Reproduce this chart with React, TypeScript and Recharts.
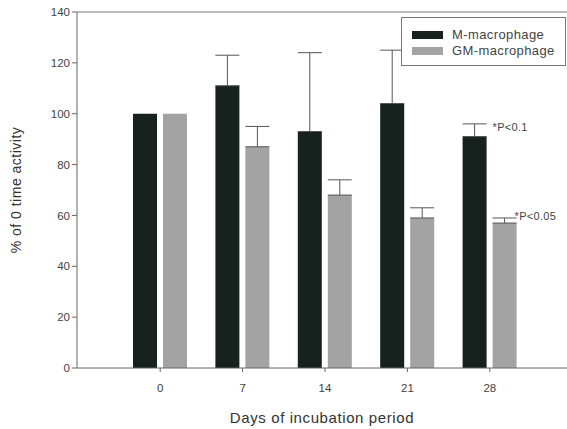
import React from "react";
import { BarChart, Bar, XAxis, YAxis, ErrorBar, ReferenceLine, LabelList } from "recharts";

const days = ["0", "7", "14", "21", "28"];
const mMacrophage = [100, 111, 93, 104, 91];
const gmMacrophage = [100, 87, 68, 59, 57];
const mError = [null, 12, 31, 21, 5];
const gmError = [null, 8, 6, 4, 2];
const mNotes = ["", "", "", "", "*P<0.1"];
const gmNotes = ["", "", "", "", "*P<0.05"];
const yTicks = [0, 20, 40, 60, 80, 100, 120, 140];
const seriesNames = ["M-macrophage", "GM-macrophage"];

const data = days.map((d, i) => ({
  day: d,
  m: mMacrophage[i],
  gm: gmMacrophage[i],
  mErr: mError[i] == null ? null : [0, mError[i]],
  gmErr: gmError[i] == null ? null : [0, gmError[i]],
  mNote: mNotes[i],
  gmNote: gmNotes[i],
}));

const FONT = "'Liberation Sans', Arial, sans-serif";
const M_COLOR = "#17211d";
const GM_COLOR = "#a3a3a3";

const makeNote = (errArr: (number | null)[], dx: number, dy: number) => (props: any) => {
  const { x, y, width, height, value, index } = props;
  if (!value) return null;
  const v = data[index];
  const base = errArr === mError ? v.m : v.gm;
  const err = errArr[index] || 0;
  const ppu = Number(height) / base;
  const top = Number(y) - err * ppu;
  return (
    <text x={Number(x) + Number(width) + dx} y={top + dy} fontSize={11} fill="#444" fontFamily={FONT} letterSpacing={0.3}>
      {value}
    </text>
  );
};

const LegendBox = () => (
  <div
    style={{
      position: "absolute",
      left: 401,
      top: 17,
      width: 163,
      height: 47,
      border: "1px solid #777",
      background: "#fff",
      fontFamily: FONT,
      fontSize: 13,
      letterSpacing: 0.4,
      color: "#444",
    }}
  >
    {[
      { c: M_COLOR, t: seriesNames[0], top: 11 },
      { c: GM_COLOR, t: seriesNames[1], top: 27 },
    ].map((e) => (
      <div key={e.t} style={{ position: "absolute", left: 10, top: e.top, display: "flex", alignItems: "center", whiteSpace: "nowrap" }}>
        <div style={{ width: 31, height: 8, background: e.c }} />
        <span style={{ marginLeft: 9, lineHeight: "12px" }}>{e.t}</span>
      </div>
    ))}
  </div>
);

export default function App() {
  return (
    <div style={{ position: "absolute", left: 0, top: 0, width: 567, height: 429, background: "#fff" }}>
      <BarChart
        width={567}
        height={429}
        data={data}
        margin={{ top: 12, right: 0, bottom: 0, left: 0 }}
        barSize={24}
        barGap={6}
      >
        <ReferenceLine y={140} stroke="#777" strokeWidth={1} ifOverflow="extendDomain" />
        <XAxis
          dataKey="day"
          height={61}
          padding={{ left: 42, right: 36 }}
          stroke="#666"
          tickLine={{ stroke: "#666" }}
          tickSize={4}
          tick={{ fill: "#444", fontSize: 11.5, fontFamily: FONT, dy: 10 }}
          label={{ value: "Days of incubation period", position: "insideBottom", offset: 6, fill: "#333", fontSize: 15, fontFamily: FONT, style: { letterSpacing: 0.6 } }}
        />
        <YAxis
          domain={[0, 140]}
          ticks={yTicks}
          width={77}
          stroke="#666"
          tickSize={5}
          tick={{ fill: "#444", fontSize: 11.5, fontFamily: FONT }}
          label={{ value: "% of 0 time activity", angle: -90, position: "insideLeft", offset: 16, fill: "#333", fontSize: 14, fontFamily: FONT, style: { textAnchor: "middle", letterSpacing: 0.5 } }}
        />
        <Bar dataKey="m" name={seriesNames[0]} fill={M_COLOR} isAnimationActive={false}>
          <ErrorBar dataKey="mErr" width={12} stroke="#555" strokeWidth={1} direction="y" />
          <LabelList dataKey="mNote" content={makeNote(mError, 6, 7)} />
        </Bar>
        <Bar dataKey="gm" name={seriesNames[1]} fill={GM_COLOR} isAnimationActive={false}>
          <ErrorBar dataKey="gmErr" width={12} stroke="#555" strokeWidth={1} direction="y" />
          <LabelList dataKey="gmNote" content={makeNote(gmError, -2, 2)} />
        </Bar>
      </BarChart>
      <LegendBox />
    </div>
  );
}
